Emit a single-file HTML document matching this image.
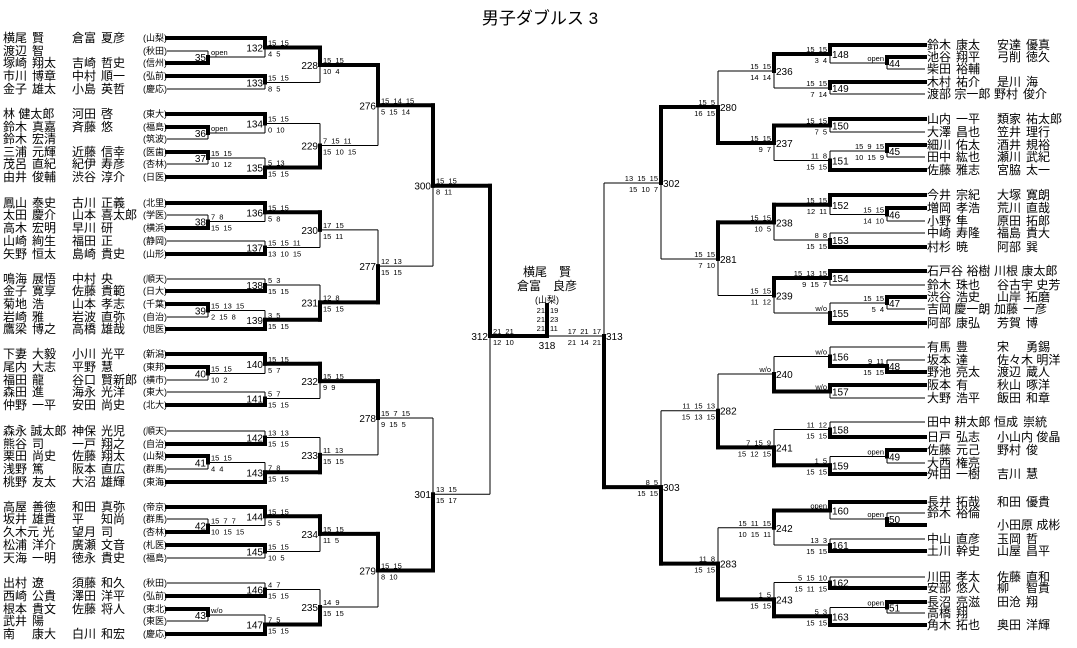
<!DOCTYPE html>
<html><head><meta charset="utf-8"><style>
html,body{margin:0;padding:0;background:#fff;}
body{width:1077px;height:648px;position:relative;overflow:hidden;font-family:"Liberation Sans","Noto Sans CJK JP",sans-serif;color:#000;}
svg{position:absolute;left:0;top:0;}
.r{position:absolute;left:0;width:1077px;height:14px;line-height:14px;font-size:12px;white-space:nowrap;}
.r div{position:absolute;top:0;}
.r span{display:inline-block;min-width:29px;}
.la{left:3px}.lb{left:72px}.lc{left:143px;font-size:9px;}
.ra{left:927px}.rb{left:997px}
.t{position:absolute;top:8px;left:440px;width:200px;text-align:center;font-size:17px;line-height:22px;}
.c{position:absolute;left:487px;width:120px;text-align:center;font-size:12px;line-height:14px;}
</style></head><body>
<div class="t">男子ダブルス 3</div>
<div class="c" style="top:265px">横尾　賢</div>
<div class="c" style="top:279px">倉富　良彦</div>
<div class="c" style="top:293px;font-size:9px">(山梨)</div>

<!-- left -->
<div class="r" style="top:31px"><div class="la"><span>横尾</span>賢</div><div class="lb"><span>倉富</span>夏彦</div><div class="lc">(山梨)</div></div>
<div class="r" style="top:44px"><div class="la"><span>渡辺</span>智</div><div class="lc">(秋田)</div></div>
<div class="r" style="top:56px"><div class="la"><span>塚崎</span>翔太</div><div class="lb"><span>吉崎</span>哲史</div><div class="lc">(信州)</div></div>
<div class="r" style="top:69px"><div class="la"><span>市川</span>博章</div><div class="lb"><span>中村</span>順一</div><div class="lc">(弘前)</div></div>
<div class="r" style="top:82px"><div class="la"><span>金子</span>雄太</div><div class="lb"><span>小島</span>英哲</div><div class="lc">(慶応)</div></div>

<div class="r" style="top:107px"><div class="la">林 健太郎</div><div class="lb"><span>河田</span>啓</div><div class="lc">(東大)</div></div>
<div class="r" style="top:120px"><div class="la"><span>鈴木</span>真嘉</div><div class="lb"><span>斉藤</span>悠</div><div class="lc">(福島)</div></div>
<div class="r" style="top:132px"><div class="la"><span>鈴木</span>宏清</div><div class="lc">(筑波)</div></div>
<div class="r" style="top:145px"><div class="la"><span>三浦</span>元輝</div><div class="lb"><span>近藤</span>信幸</div><div class="lc">(医歯)</div></div>
<div class="r" style="top:157px"><div class="la"><span>茂呂</span>直紀</div><div class="lb"><span>紀伊</span>寿彦</div><div class="lc">(杏林)</div></div>
<div class="r" style="top:170px"><div class="la"><span>由井</span>俊輔</div><div class="lb"><span>渋谷</span>淳介</div><div class="lc">(日医)</div></div>

<div class="r" style="top:196px"><div class="la"><span>鳳山</span>泰史</div><div class="lb"><span>古川</span>正義</div><div class="lc">(北里)</div></div>
<div class="r" style="top:208px"><div class="la"><span>太田</span>慶介</div><div class="lb"><span>山本</span>喜太郎</div><div class="lc">(学医)</div></div>
<div class="r" style="top:221px"><div class="la"><span>高木</span>宏明</div><div class="lb"><span>早川</span>研</div><div class="lc">(横浜)</div></div>
<div class="r" style="top:234px"><div class="la"><span>山崎</span>絢生</div><div class="lb"><span>福田</span>正</div><div class="lc">(静岡)</div></div>
<div class="r" style="top:247px"><div class="la"><span>矢野</span>恒太</div><div class="lb"><span>島崎</span>貴史</div><div class="lc">(山形)</div></div>

<div class="r" style="top:272px"><div class="la"><span>鳴海</span>展悟</div><div class="lb"><span>中村</span>央</div><div class="lc">(順天)</div></div>
<div class="r" style="top:284px"><div class="la"><span>金子</span>寛享</div><div class="lb"><span>佐藤</span>貴範</div><div class="lc">(日大)</div></div>
<div class="r" style="top:297px"><div class="la"><span>菊地</span>浩</div><div class="lb"><span>山本</span>孝志</div><div class="lc">(千葉)</div></div>
<div class="r" style="top:310px"><div class="la"><span>岩崎</span>雅</div><div class="lb"><span>岩波</span>直弥</div><div class="lc">(自治)</div></div>
<div class="r" style="top:322px"><div class="la"><span>鷹梁</span>博之</div><div class="lb"><span>高橋</span>雄哉</div><div class="lc">(旭医)</div></div>

<div class="r" style="top:347px"><div class="la"><span>下妻</span>大毅</div><div class="lb"><span>小川</span>光平</div><div class="lc">(新潟)</div></div>
<div class="r" style="top:360px"><div class="la"><span>尾内</span>大志</div><div class="lb"><span>平野</span>慧</div><div class="lc">(東邦)</div></div>
<div class="r" style="top:373px"><div class="la"><span>福田</span>龍</div><div class="lb"><span>谷口</span>賢新郎</div><div class="lc">(横市)</div></div>
<div class="r" style="top:385px"><div class="la"><span>森田</span>進</div><div class="lb"><span>海永</span>光洋</div><div class="lc">(東大)</div></div>
<div class="r" style="top:398px"><div class="la"><span>仲野</span>一平</div><div class="lb"><span>安田</span>尚史</div><div class="lc">(北大)</div></div>

<div class="r" style="top:424px"><div class="la">森永 誠太郎</div><div class="lb"><span>神保</span>光児</div><div class="lc">(順天)</div></div>
<div class="r" style="top:437px"><div class="la"><span>熊谷</span>司</div><div class="lb"><span>一戸</span>翔之</div><div class="lc">(自治)</div></div>
<div class="r" style="top:449px"><div class="la"><span>栗田</span>尚史</div><div class="lb"><span>佐藤</span>翔太</div><div class="lc">(山梨)</div></div>
<div class="r" style="top:462px"><div class="la"><span>浅野</span>篤</div><div class="lb"><span>阪本</span>直広</div><div class="lc">(群馬)</div></div>
<div class="r" style="top:475px"><div class="la"><span>桃野</span>友太</div><div class="lb"><span>大沼</span>雄輝</div><div class="lc">(東海)</div></div>

<div class="r" style="top:500px"><div class="la"><span>高屋</span>善徳</div><div class="lb"><span>和田</span>真弥</div><div class="lc">(帝京)</div></div>
<div class="r" style="top:512px"><div class="la"><span>坂井</span>雄貴</div><div class="lb"><span>平</span>知尚</div><div class="lc">(群馬)</div></div>
<div class="r" style="top:525px"><div class="la">久木元 光</div><div class="lb"><span>望月</span>司</div><div class="lc">(杏林)</div></div>
<div class="r" style="top:538px"><div class="la"><span>松浦</span>洋介</div><div class="lb"><span>廣瀬</span>文音</div><div class="lc">(札医)</div></div>
<div class="r" style="top:551px"><div class="la"><span>天海</span>一明</div><div class="lb"><span>徳永</span>貴史</div><div class="lc">(福島)</div></div>

<div class="r" style="top:576px"><div class="la"><span>出村</span>遼</div><div class="lb"><span>須藤</span>和久</div><div class="lc">(秋田)</div></div>
<div class="r" style="top:589px"><div class="la"><span>西崎</span>公貴</div><div class="lb"><span>澤田</span>洋平</div><div class="lc">(弘前)</div></div>
<div class="r" style="top:602px"><div class="la"><span>根本</span>貴文</div><div class="lb"><span>佐藤</span>将人</div><div class="lc">(東北)</div></div>
<div class="r" style="top:614px"><div class="la"><span>武井</span>陽</div><div class="lc">(東医)</div></div>
<div class="r" style="top:627px"><div class="la"><span>南</span>康大</div><div class="lb"><span>白川</span>和宏</div><div class="lc">(慶応)</div></div>

<!-- right -->
<div class="r" style="top:38px"><div class="ra"><span>鈴木</span>康太</div><div class="rb"><span>安達</span>優真</div></div>
<div class="r" style="top:50px"><div class="ra"><span>池谷</span>翔平</div><div class="rb"><span>弓削</span>徳久</div></div>
<div class="r" style="top:62px"><div class="ra"><span>柴田</span>裕輔</div></div>
<div class="r" style="top:75px"><div class="ra"><span>木村</span>祐介</div><div class="rb"><span>是川</span>海</div></div>
<div class="r" style="top:87px"><div class="ra">渡部 宗一郎</div><div class="rb" style="left:994px"><span>野村</span>俊介</div></div>

<div class="r" style="top:112px"><div class="ra"><span>山内</span>一平</div><div class="rb"><span>類家</span>祐太郎</div></div>
<div class="r" style="top:125px"><div class="ra"><span>大澤</span>昌也</div><div class="rb"><span>笠井</span>理行</div></div>
<div class="r" style="top:138px"><div class="ra"><span>細川</span>佑太</div><div class="rb"><span>酒井</span>規裕</div></div>
<div class="r" style="top:150px"><div class="ra"><span>田中</span>紘也</div><div class="rb"><span>瀬川</span>武紀</div></div>
<div class="r" style="top:163px"><div class="ra"><span>佐藤</span>雅志</div><div class="rb"><span>宮脇</span>太一</div></div>

<div class="r" style="top:188px"><div class="ra"><span>今井</span>宗紀</div><div class="rb"><span>大塚</span>寛朗</div></div>
<div class="r" style="top:201px"><div class="ra"><span>増岡</span>孝浩</div><div class="rb"><span>荒川</span>直哉</div></div>
<div class="r" style="top:214px"><div class="ra"><span>小野</span>隼</div><div class="rb"><span>原田</span>拓郎</div></div>
<div class="r" style="top:226px"><div class="ra"><span>中崎</span>寿隆</div><div class="rb"><span>福島</span>貴大</div></div>
<div class="r" style="top:240px"><div class="ra"><span>村杉</span>暁</div><div class="rb"><span>阿部</span>巽</div></div>

<div class="r" style="top:264px"><div class="ra">石戸谷 裕樹</div><div class="rb" style="left:994px">川根 康太郎</div></div>
<div class="r" style="top:278px"><div class="ra"><span>鈴木</span>珠也</div><div class="rb">谷古宇 史芳</div></div>
<div class="r" style="top:290px"><div class="ra"><span>渋谷</span>浩史</div><div class="rb"><span>山岸</span>拓磨</div></div>
<div class="r" style="top:302px"><div class="ra">吉岡 慶一朗</div><div class="rb" style="left:994px"><span>加藤</span>一彦</div></div>
<div class="r" style="top:316px"><div class="ra"><span>阿部</span>康弘</div><div class="rb"><span>芳賀</span>博</div></div>

<div class="r" style="top:340px"><div class="ra"><span>有馬</span>豊</div><div class="rb"><span>宋</span>勇錫</div></div>
<div class="r" style="top:353px"><div class="ra"><span>坂本</span>達</div><div class="rb">佐々木 明洋</div></div>
<div class="r" style="top:365px"><div class="ra"><span>野池</span>亮太</div><div class="rb"><span>渡辺</span>蔵人</div></div>
<div class="r" style="top:378px"><div class="ra"><span>阪本</span>有</div><div class="rb"><span>秋山</span>啄洋</div></div>
<div class="r" style="top:391px"><div class="ra"><span>大野</span>浩平</div><div class="rb"><span>飯田</span>和章</div></div>

<div class="r" style="top:415px"><div class="ra">田中 耕太郎</div><div class="rb" style="left:994px"><span>恒成</span>崇統</div></div>
<div class="r" style="top:430px"><div class="ra"><span>日戸</span>弘志</div><div class="rb">小山内 俊晶</div></div>
<div class="r" style="top:443px"><div class="ra"><span>佐藤</span>元己</div><div class="rb"><span>野村</span>俊</div></div>
<div class="r" style="top:456px"><div class="ra"><span>大西</span>権亮</div></div>
<div class="r" style="top:467px"><div class="ra"><span>舛田</span>一樹</div><div class="rb"><span>吉川</span>慧</div></div>

<div class="r" style="top:495px"><div class="ra"><span>長井</span>拓哉</div><div class="rb"><span>和田</span>優貴</div></div>
<div class="r" style="top:506px"><div class="ra"><span>鈴木</span>裕倫</div></div>
<div class="r" style="top:518px"><div class="rb">小田原 成彬</div></div>
<div class="r" style="top:532px"><div class="ra"><span>中山</span>直彦</div><div class="rb"><span>玉岡</span>哲</div></div>
<div class="r" style="top:544px"><div class="ra"><span>土川</span>幹史</div><div class="rb"><span>山屋</span>昌平</div></div>

<div class="r" style="top:570px"><div class="ra"><span>川田</span>孝太</div><div class="rb"><span>佐藤</span>直和</div></div>
<div class="r" style="top:581px"><div class="ra"><span>安部</span>悠人</div><div class="rb"><span>柳</span>智貴</div></div>
<div class="r" style="top:595px"><div class="ra"><span>長沼</span>亮滋</div><div class="rb"><span>田沧</span>翔</div></div>
<div class="r" style="top:606px"><div class="ra"><span>高橋</span>翔</div></div>
<div class="r" style="top:618px"><div class="ra"><span>角木</span>拓也</div><div class="rb"><span>奥田</span>洋輝</div></div>

<svg id="g" width="1077" height="648" xmlns="http://www.w3.org/2000/svg"></svg>
<script>
var S=[];
function ln(x1,y1,x2,y2,t){S.push('<line x1="'+x1+'" y1="'+y1+'" x2="'+x2+'" y2="'+y2+'" stroke="#000" stroke-width="'+(t?4:1)+'" stroke-linecap="'+(t?'square':'butt')+'"/>');}
function T(x,y,s,sz,a){if(!s)return;S.push('<text x="'+x+'" y="'+y+'" font-size="'+sz+'" text-anchor="'+a+'" word-spacing="'+(sz<9?2:0)+'" font-family="Liberation Sans,sans-serif">'+s+'</text>');}
function L(y){return {leaf:1,y:y};}
function M(x,l,a,b,w,st,sb){return {x:x,l:l,a:a,b:b,w:w,st:st,sb:sb};}
function Y(n){if(n.leaf)return n.y;if(n.ym==null)n.ym=(Y(n.a)+Y(n.b))/2;return n.ym;}
function D(n,side){
 if(n.leaf)return;
 var ex=side=='L'?167:925, ym=Y(n);
 [n.a,n.b].forEach(function(c,i){
  var cx=c.leaf?ex:c.x, cy=Y(c), th=(n.w=='t'&&i==0)||(n.w=='b'&&i==1);
  ln(cx,cy,n.x,cy,th); ln(n.x,cy,n.x,ym,th); D(c,side);
 });
 if(side=='L'){T(n.x-2,ym+4,n.l,10,'end');T(n.x+3,ym-2,n.st,7.5,'start');T(n.x+3,ym+9,n.sb,7.5,'start');}
 else{T(n.x+2,ym+4,n.l,10,'start');T(n.x-3,ym-2,n.st,7.5,'end');T(n.x-3,ym+9,n.sb,7.5,'end');}
}
var n276=M(378,'276',
 M(320,'228',M(265,'132',L(38),M(208,'35',L(51),L(63),'b','open',''),'t','15 15','4 5'),M(265,'133',L(76),L(89),'t','15 15','8 5'),'t','15 15','10 4'),
 M(320,'229',M(265,'134',L(114),M(208,'36',L(127),L(139),'t','open',''),'t','15 15','0 10'),M(265,'135',M(208,'37',L(152),L(164),'t','15 15','10 12'),L(177),'b','5 13','15 15'),'b','7 15 11','15 10 15'),
 't','15 14 15','5 15 14');
var n277=M(378,'277',
 M(320,'230',M(265,'136',L(203),M(208,'38',L(215),L(228),'b','7 8','15 15'),'t','15 15','5 8'),M(265,'137',L(241),L(254),'b','15 15 11','13 10 15'),'t','17 15','15 11'),
 M(320,'231',M(265,'138',L(279),L(291),'b','5 3','15 15'),M(265,'139',M(208,'39',L(304),L(317),'t','15 13 15','2 15 8'),L(329),'b','3 5','15 15'),'b','12 8','15 15'),
 'b','12 13','15 15');
var n278=M(378,'278',
 M(320,'232',M(265,'140',L(354),M(208,'40',L(367),L(380),'t','15 15','10 2'),'t','15 15','5 7'),M(265,'141',L(392),L(405),'b','5 7','15 15'),'t','15 15','9 9'),
 M(320,'233',M(265,'142',L(431),L(444),'b','13 13','15 15'),M(265,'143',M(208,'41',L(456),L(469),'t','15 15','4 4'),L(482),'b','7 8','15 15'),'b','11 13','15 15'),
 't','15 7 15','9 15 5');
var n279=M(378,'279',
 M(320,'234',M(265,'144',L(507),M(208,'42',L(519),L(532),'b','15 7 7','10 15 15'),'t','15 15','5 5'),M(265,'145',L(545),L(558),'t','15 15','10 5'),'t','15 15','11 5'),
 M(320,'235',M(265,'146',L(583),L(596),'b','4 7','15 15'),M(265,'147',M(208,'43',L(609),L(621),'t','w/o',''),L(634),'b','7 5','15 15'),'b','14 9','15 15'),
 't','15 15','8 10');
var n312=M(490,'',M(433,'300',n276,n277,'t','15 15','8 11'),M(433,'301',n278,n279,'b','13 15','15 17'),'t','21 21','12 10');
n312.ym=336;
D(n312,'L');
T(488,340,'312',10,'end');

var n280=M(718,'280',
 M(774,'236',M(830,'148',L(45),M(887,'44',L(57),L(69),'t','open',''),'t','15 15','3 4'),M(830,'149',L(82),L(94),'t','15 15','7 14'),'t','15 15','14 14'),
 M(774,'237',M(830,'150',L(119),L(132),'t','15 15','7 5'),M(830,'151',M(887,'45',L(145),L(157),'t','15 9 15','10 15 9'),L(170),'b','11 8','15 15'),'t','15 15','9 7'),
 'b','15 5','16 15');
var n281=M(718,'281',
 M(774,'238',M(830,'152',L(195),M(887,'46',L(208),L(221),'t','15 15','14 10'),'t','15 15','12 11'),M(830,'153',L(233),L(247),'b','8 8','15 15'),'t','15 15','10 5'),
 M(774,'239',M(830,'154',L(271),L(285),'t','15 13 15','9 15 7'),M(830,'155',M(887,'47',L(297),L(309),'t','15 15','5 4'),L(323),'b','w/o',''),'t','15 15','11 12'),
 't','15 15','7 10');
var n282=M(718,'282',
 M(774,'240',M(830,'156',L(347),M(887,'48',L(360),L(372),'b','9 11','15 15'),'b','w/o',''),M(830,'157',L(385),L(398),'t','w/o',''),'b','w/o',''),
 M(774,'241',M(830,'158',L(422),L(437),'b','11 12','15 15'),M(830,'159',M(887,'49',L(450),L(463),'t','open',''),L(474),'b','1 5','15 15'),'b','7 15 9','15 12 15'),
 'b','11 15 13','15 13 15');
var n283=M(718,'283',
 M(774,'242',M(830,'160',L(502),M(887,'50',L(513),L(525),'b','open',''),'t','open',''),M(830,'161',L(539),L(551),'b','13 3','15 15'),'t','15 11 15','10 15 11'),
 M(774,'243',M(830,'162',L(577),L(588),'b','5 15 10','15 11 15'),M(830,'163',M(887,'51',L(602),L(613),'t','open',''),L(625),'b','5 3','15 15'),'b','1 5','15 15'),
 'b','11 8','15 15');
var n313=M(604,'',M(661,'302',n280,n281,'t','13 15 15','15 10 7'),M(661,'303',n282,n283,'b','8 5','15 15'),'b','17 21 17','21 14 21');
n313.ym=336;
D(n313,'R');
T(606,340,'313',10,'start');

ln(490,336,547,336,1);
ln(547,336,604,336,0);
ln(547,305,547,336,1);
T(547,349,'318',10,'middle');
T(545,313,'21',7.5,'end');T(550,313,'19',7.5,'start');
T(545,322,'21',7.5,'end');T(550,322,'23',7.5,'start');
T(545,331,'21',7.5,'end');T(550,331,'11',7.5,'start');
document.getElementById('g').innerHTML=S.join('');
</script>
</body></html>
